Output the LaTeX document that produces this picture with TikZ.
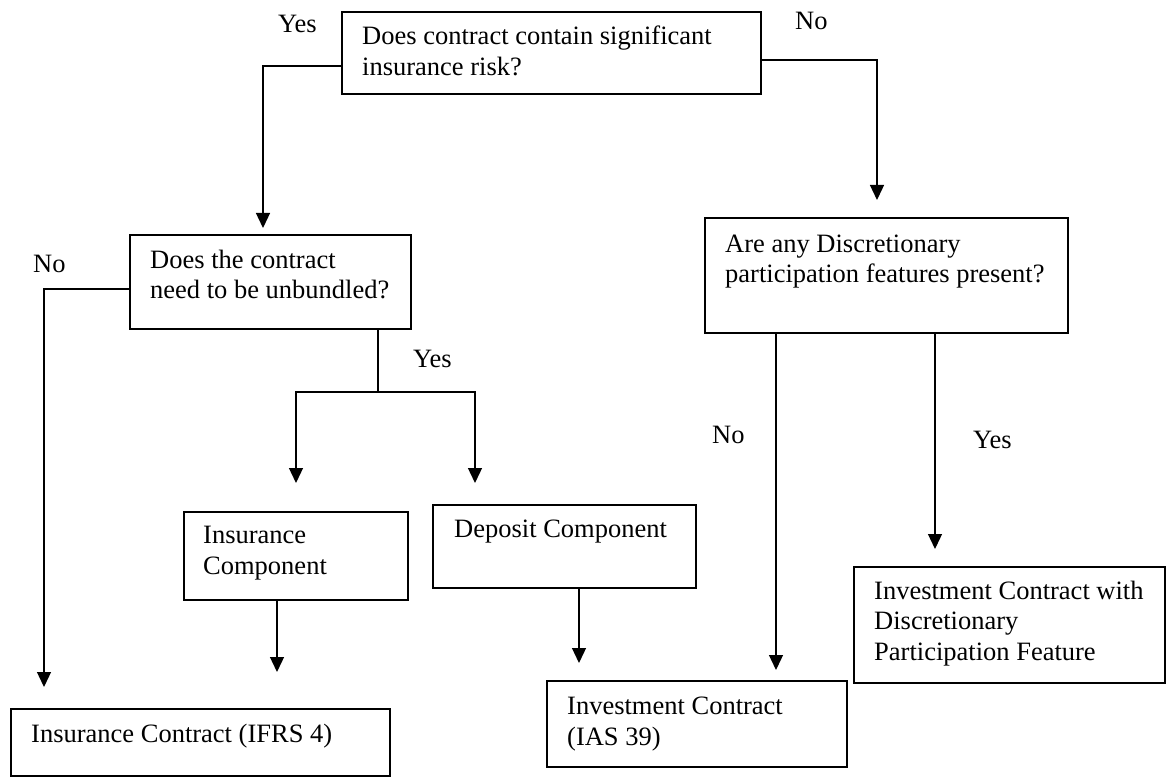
\documentclass[tikz,border=0pt]{standalone}
\usepackage{fontspec}
\setmainfont{Liberation Serif}
\usetikzlibrary{arrows.meta,calc}

\tikzset{
  box/.style={draw=black, line width=1.3pt, rectangle, inner sep=0pt, outer sep=0pt, anchor=north west},
  mainbox/.style={box, line width=2pt},
  % the base anchor of a multi-line text sits on its last line
  txt/.style={anchor=base west, inner sep=0pt, align=left, font=\fontsize{26.5}{30.5}\selectfont},
  conn/.style={line width=1.3pt},
  arr/.style={line width=1.3pt, -{Triangle[width=14pt,length=15pt]}},
}

\begin{document}
\begin{tikzpicture}[x=1pt,y=-1pt]
  \useasboundingbox (0,0) rectangle (1167,778);

  % decision and outcome boxes
  \node[mainbox, minimum width=419pt, minimum height=82pt] (q1) at (342,12) {};
  \node[box, minimum width=281pt, minimum height=94pt] (q2) at (130,235) {};
  \node[box, minimum width=363pt, minimum height=115pt] (q3) at (705,218) {};
  \node[box, minimum width=224pt, minimum height=88pt] (ic) at (184,512) {};
  \node[box, minimum width=263pt, minimum height=83pt] (dc) at (433,505) {};
  \node[box, minimum width=379pt, minimum height=67pt] (ict) at (11,709) {};
  \node[box, minimum width=300pt, minimum height=86pt] (inv) at (547,681) {};
  \node[box, minimum width=311pt, minimum height=116pt] (dpf) at (854,567) {};

  % box texts
  \node[txt] (q1t) at ([shift={(20,63.5)}]q1.north west) {Does contract contain significant\\insurance risk?};
  \node[txt] (q2t) at ([shift={(20,63.5)}]q2.north west) {Does the contract\\need to be unbundled?};
  \node[txt] (q3t) at ([shift={(20,64.5)}]q3.north west) {Are any Discretionary\\participation features present?};
  \node[txt] (ict1) at ([shift={(19,62)}]ic.north west) {Insurance\\Component};
  \node[txt] (dct) at ([shift={(21,32)}]dc.north west) {Deposit Component};
  \node[txt] (ictt) at ([shift={(20,33)}]ict.north west) {Insurance Contract (IFRS 4)};
  \node[txt] (invt) at ([shift={(20,64)}]inv.north west) {Investment Contract\\(IAS 39)};
  \node[txt] (dpft) at ([shift={(20,93)}]dpf.north west) {Investment Contract with\\Discretionary\\Participation Feature};

  % branch labels
  \node[txt] (y1) at (278,33) {Yes};
  \node[txt] (n1) at (795,30) {No};
  \node[txt] (n2) at (33,272) {No};
  \node[txt] (y2) at (413,367) {Yes};
  \node[txt] (n3) at (712,443) {No};
  \node[txt] (y3) at (973,448) {Yes};

  % arrow end points and junction
  \coordinate (a1) at (263,228);
  \coordinate (a2) at (877,200);
  \coordinate (a3) at (44,687);
  \coordinate (sp) at (378,392);
  \coordinate (a4) at (296,483);
  \coordinate (a5) at (475,483);
  \coordinate (a6) at (277,672);
  \coordinate (a7) at (579,663);
  \coordinate (a8) at (776,670);
  \coordinate (a9) at (935,549);

  % connectors
  \draw[arr] ([shift={(0,13)}]q1.west) -| (a1);
  \draw[arr] ([shift={(0,7)}]q1.east) -| (a2);
  \draw[arr] ([shift={(0,7)}]q2.west) -| (a3);
  \draw[conn] (q2.south -| sp) -- (sp);
  \draw[arr] (sp) -| (a4);
  \draw[arr] (sp) -| (a5);
  \draw[arr] (ic.south -| a6) -- (a6);
  \draw[arr] (dc.south -| a7) -- (a7);
  \draw[arr] (q3.south -| a8) -- (a8);
  \draw[arr] (q3.south -| a9) -- (a9);
\end{tikzpicture}
\end{document}
